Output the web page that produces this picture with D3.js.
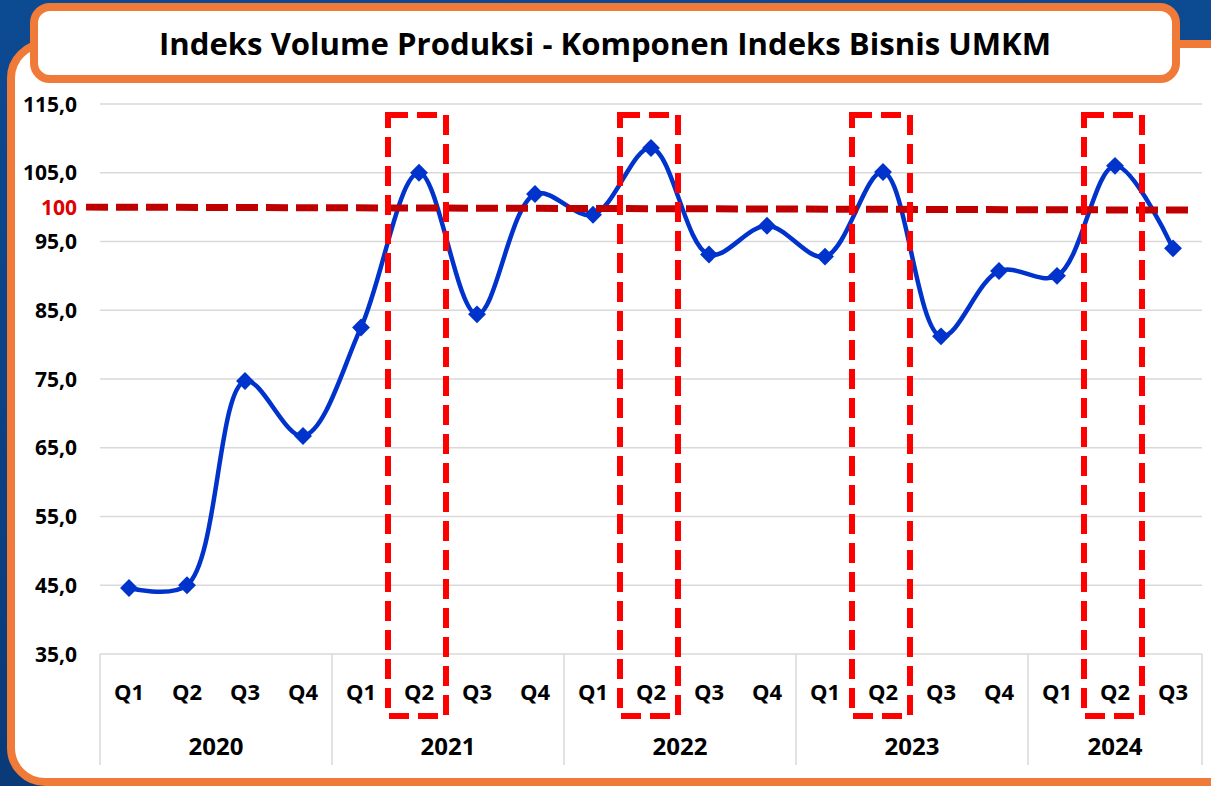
<!DOCTYPE html>
<html><head><meta charset="utf-8">
<script src="https://cdn.jsdelivr.net/npm/d3@7"></script>
<style>
html,body{margin:0;padding:0;background:#0b478d;}
svg{display:block;}
</style></head>
<body>
<svg id="c" width="1211" height="786"></svg>
<script>
const years = ["2020","2021","2022","2023","2024"];
const quarters = ["Q1","Q2","Q3","Q4","Q1","Q2","Q3","Q4","Q1","Q2","Q3","Q4","Q1","Q2","Q3","Q4","Q1","Q2","Q3"];
const yearOf = [0,0,0,0,1,1,1,1,2,2,2,2,3,3,3,3,4,4,4];
const values = [44.6,45.0,74.7,66.7,82.5,105.0,84.4,101.9,98.9,108.6,93.1,97.3,92.8,105.1,81.2,90.7,90.0,106.0,94.0];
const yTicks = [35,45,55,65,75,85,95,105,115];
const highlightIdx = [5,9,13,17];
const refValue = 100;
const title = "Indeks Volume Produksi - Komponen Indeks Bisnis UMKM";

const svg = d3.select("#c");
const font = "'Open Sans', sans-serif";

// background
const defs = svg.append("defs");
const g1 = defs.append("linearGradient").attr("id","bg").attr("x1","0").attr("y1","0").attr("x2","0").attr("y2","1");
g1.append("stop").attr("offset","0").attr("stop-color","#0c4a92");
g1.append("stop").attr("offset","1").attr("stop-color","#0a3a78");
svg.append("rect").attr("width",1211).attr("height",786).attr("fill","url(#bg)");

// main panel
svg.append("rect").attr("x",11).attr("y",44).attr("width",1240).attr("height",738)
  .attr("rx",34).attr("fill","#fff").attr("stroke","#f07a38").attr("stroke-width",8);

// title box
svg.append("rect").attr("x",34).attr("y",7).attr("width",1142).attr("height",72)
  .attr("rx",16).attr("fill","#fff").attr("stroke","#f07a38").attr("stroke-width",8);
svg.append("text").attr("x",605).attr("y",55).attr("text-anchor","middle")
  .attr("font-family",font).attr("font-weight","bold").attr("font-size",30).attr("fill","#000")
  .attr("textLength",892).attr("lengthAdjust","spacingAndGlyphs")
  .text(title);

const m = {l:100, r:1202, t:104, b:654};
const x = d3.scaleBand().domain(d3.range(quarters.length)).range([m.l,m.r]);
const y = d3.scaleLinear().domain([35,115]).range([m.b,m.t]);

// grid
svg.append("g").selectAll("line").data(yTicks).join("line")
  .attr("x1",m.l).attr("x2",m.r).attr("y1",d=>y(d)).attr("y2",d=>y(d))
  .attr("stroke","#d9d9d9").attr("stroke-width",1.5);

// y labels
svg.append("g").selectAll("text").data(yTicks).join("text")
  .attr("x",77).attr("y",d=>y(d)).attr("dy","0.36em").attr("text-anchor","end")
  .attr("font-family",font).attr("font-weight","bold").attr("font-size",21).attr("fill","#000")
  .text(d=>d.toFixed(1).replace(".",","));
svg.append("text").attr("x",77).attr("y",y(refValue)).attr("dy","0.36em").attr("text-anchor","end")
  .attr("font-family",font).attr("font-weight","bold").attr("font-size",21).attr("fill","#e00000")
  .text(String(refValue));

// x axis category boxes
const yearStarts = years.map((yr,i)=>yearOf.indexOf(i));
const seps = yearStarts.map(i=>x(i)).concat([m.r]);
svg.append("g").selectAll("line").data(seps).join("line")
  .attr("x1",d=>d).attr("x2",d=>d).attr("y1",m.b).attr("y2",765)
  .attr("stroke","#d9d9d9").attr("stroke-width",1.5);
svg.append("g").selectAll("text").data(quarters).join("text")
  .attr("x",(d,i)=>x(i)+x.bandwidth()/2).attr("y",700).attr("text-anchor","middle")
  .attr("font-family",font).attr("font-weight","bold").attr("font-size",22).attr("fill","#000")
  .text(d=>d);
svg.append("g").selectAll("text").data(years).join("text")
  .attr("x",(d,i)=>{const s=yearStarts[i]; const e=(i<years.length-1?yearStarts[i+1]:quarters.length); return (x(s)+ (e<quarters.length?x(e):m.r))/2;})
  .attr("y",755).attr("text-anchor","middle")
  .attr("font-family",font).attr("font-weight","bold").attr("font-size",24).attr("fill","#000")
  .text(d=>d);

// line
const line = d3.line().x((d,i)=>x(i)+x.bandwidth()/2).y(d=>y(d)).curve(d3.curveCatmullRom.alpha(0.5));
svg.append("path").datum(values).attr("d",line).attr("fill","none")
  .attr("stroke","#0033cc").attr("stroke-width",4.5);
svg.append("g").selectAll("path").data(values).join("path")
  .attr("d",d3.symbol(d3.symbolSquare,160)())
  .attr("transform",(d,i)=>`translate(${x(i)+x.bandwidth()/2},${y(d)}) rotate(45)`)
  .attr("fill","#0033cc");

// reference dashed line
svg.append("line").attr("x1",86).attr("x2",1192).attr("y1",y(refValue)).attr("y2",y(refValue)+3)
  .attr("stroke","#c00000").attr("stroke-width",7).attr("stroke-dasharray","22,8");

// highlight rects
svg.append("g").selectAll("rect").data(highlightIdx).join("rect")
  .attr("x",d=>x(d)-2).attr("width",x.bandwidth()).attr("y",115).attr("height",601)
  .attr("fill","none").attr("stroke","#ff0000").attr("stroke-width",6).attr("stroke-dasharray","20,9");
</script>
</body></html>
